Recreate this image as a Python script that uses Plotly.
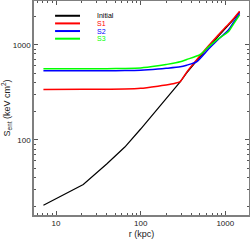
import plotly.graph_objects as go

# radius (kpc)
r_initial = [7.1, 21, 40, 65, 100, 160, 200, 293, 350, 462, 634, 800, 1094, 1250, 1476]
s_initial = [20.5, 34, 56, 84, 130, 215, 268, 408, 505, 680, 953, 1190, 1611, 1840, 2222]

r_s1 = [7.1, 21, 40, 65, 100, 160, 200, 250, 293, 350, 462, 634, 800, 1094, 1250, 1476]
s_s1 = [339, 340, 341, 342, 348, 367, 378, 392, 410, 515, 700, 975, 1230, 1650, 1880, 2250]

r_s2 = [7.1, 21, 40, 65, 100, 160, 200, 293, 350, 462, 634, 800, 1094, 1250, 1476]
s_s2 = [532, 532, 533, 535, 540, 555, 565, 586, 610, 665, 900, 1110, 1440, 1720, 2140]

r_s3 = [7.1, 21, 40, 65, 100, 160, 200, 293, 350, 506, 634, 800, 1094, 1250, 1476]
s_s3 = [559, 559, 560, 563, 570, 600, 620, 662, 700, 790, 950, 1130, 1380, 1650, 2060]

names = ["Initial", "S1", "S2", "S3"]
colors = ["#000000", "#ff0000", "#0000ff", "#00ff00"]

xs = [r_initial, r_s1, r_s2, r_s3]
ys = [s_initial, s_s1, s_s2, s_s3]
widths = [1.2, 1.5, 1.5, 1.5]
shapes_ = ["linear", "spline", "spline", "spline"]

fig = go.Figure()
for x, y, n, c, w, sh in zip(xs, ys, names, colors, widths, shapes_):
    fig.add_trace(go.Scatter(
        x=x, y=y, mode="lines", name=n, showlegend=False,
        line=dict(color=c, width=w, shape=sh, smoothing=0.6),
    ))

font = "Liberation Sans, Arial, sans-serif"

# legend drawn as line swatches + labels (paper coordinates)
leg_y0 = 0.931
leg_dy = 0.0357
for i, (n, c) in enumerate(zip(names, colors)):
    yy = leg_y0 - i * leg_dy
    fig.add_shape(type="line", xref="paper", yref="paper",
                  x0=0.098, x1=0.214, y0=yy, y1=yy,
                  line=dict(color=c, width=2))
    fig.add_annotation(xref="paper", yref="paper", x=0.284, y=yy,
                       xanchor="left", yanchor="middle", showarrow=False,
                       text=n, font=dict(size=7, family=font, color=c))

axis_common = dict(
    type="log", showline=True, linecolor="#7f7f7f", linewidth=1.5, mirror="ticks",
    ticks="inside", ticklen=4, tickcolor="#555555", tickwidth=1,
    showgrid=False, zeroline=False,
    tickfont=dict(size=8, family=font, color="#222222"),
    minor=dict(ticks="inside", ticklen=2, tickcolor="#555555", showgrid=False),
)

fig.update_layout(
    width=250, height=244,
    margin=dict(l=34, r=1, t=1, b=29, autoexpand=False),
    paper_bgcolor="white", plot_bgcolor="white",
    font=dict(family=font, size=9, color="#222222"),
    xaxis=dict(axis_common, range=[0.74, 3.28], dtick=1,
               title=dict(text="r (kpc)", font=dict(size=9), standoff=3)),
    yaxis=dict(axis_common, range=[1.21, 3.46], dtick=1,
               title=dict(text="S<sub>ent</sub> (keV cm<sup>2</sup>)", font=dict(size=9), standoff=2)),
    showlegend=False,
)

fig.write_html("out.html", config={"displayModeBar": False},
               post_script="document.body.style.margin='0';document.body.style.overflow='hidden';")
